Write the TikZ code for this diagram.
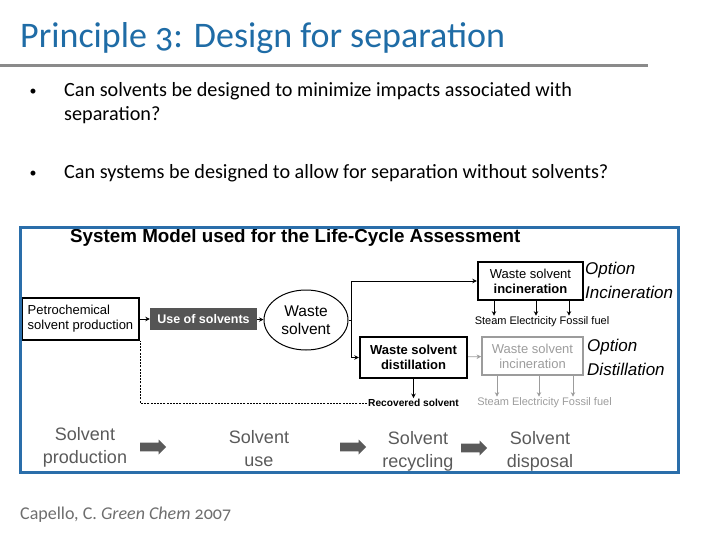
\documentclass[tikz,border=0pt]{standalone}
\usepackage{fontspec}
\setmainfont{Carlito}[Numbers=OldStyle]
\newfontfamily\arialfont{Liberation Sans}
\usetikzlibrary{arrows.meta,shapes.geometric,shapes.arrows,positioning}
\definecolor{titleblue}{HTML}{1F6CA6}
\definecolor{frameblue}{HTML}{2A6EAA}
\definecolor{rulegray}{HTML}{8A8A8A}
\definecolor{citegray}{HTML}{6E6E6E}
\definecolor{optgray}{HTML}{9C9C9C}
\definecolor{stagegray}{HTML}{5A5A5A}
\definecolor{usefill}{HTML}{555555}
\begin{document}
\begin{tikzpicture}[x=1pt, y=-1pt, >={Stealth[length=4.5pt,width=4.5pt]},
    heavybox/.style={draw, line width=2.4pt, inner sep=2pt, align=center, font=\arialfont\fontsize{13}{15}\selectfont},
    greybox/.style={draw=optgray, line width=1.8pt, inner sep=2pt, align=center, text=optgray, font=\arialfont\fontsize{13}{15}\selectfont},
    outlabel/.style={inner sep=1pt, font=\arialfont\fontsize{11}{12}\selectfont},
    optlabel/.style={anchor=west, inner sep=0pt, font=\arialfont\itshape\fontsize{17}{18}\selectfont},
    stage/.style={align=center, text=stagegray, font=\arialfont\fontsize{18}{23}\selectfont},
    stagearrow/.style={single arrow, fill=stagegray, inner sep=4pt, minimum width=15pt, minimum height=26pt, single arrow head extend=3pt, single arrow head indent=0pt},
    flow/.style={->, line width=0.8pt}]
    % Page size
    \useasboundingbox (0,0) rectangle (720,540);

    % Heading and rule
    \node[anchor=base west, inner sep=0pt, text=titleblue, font=\fontsize{36}{40}\selectfont] (title) at (20,48) {Principle 3: Design for separation};
    \draw[rulegray, line width=3pt] (0,66) -- (648,66);

    % Questions
    \node[anchor=base, inner sep=0pt, font=\fontsize{14}{24}\selectfont] (dot1) at (33,96) {•};
    \node[anchor=base west, inner sep=0pt, align=left, font=\fontsize{20.2}{24}\selectfont] (q1) at (64,121) {Can solvents be designed to minimize impacts associated with\\separation?};
    \node[anchor=base, inner sep=0pt, font=\fontsize{14}{24}\selectfont] (dot2) at (33,178) {•};
    \node[anchor=base west, inner sep=0pt, font=\fontsize{20.2}{24}\selectfont] (q2) at (64,179) {Can systems be designed to allow for separation without solvents?};

    \begin{scope}
    \clip (20,228) rectangle (678,472);
    % Model heading
    \node[anchor=base west, inner sep=0pt, font=\arialfont\bfseries\fontsize{18.8}{20}\selectfont] (model) at (70,243) {System Model used for the Life-Cycle Assessment};

    % Main chain
    \node[heavybox, align=left, minimum width=117pt, minimum height=42pt] (prod) at (80.5,319) {Petrochemical\\solvent production};
    \node[fill=usefill, text=white, minimum width=107pt, minimum height=22pt, inner sep=1pt, font=\arialfont\bfseries\fontsize{12.5}{14}\selectfont] (use) at (203.5,319) {Use of solvents};
    \node[draw, ellipse, line width=1pt, minimum width=84pt, minimum height=60pt, inner sep=0pt, align=center, font=\arialfont\fontsize{15.5}{18}\selectfont] (waste) at (306,320) {Waste\\solvent};
    \coordinate (split) at (351,320);

    % Option incineration
    \node[heavybox, minimum width=105pt, minimum height=38pt] (incin) at (530.5,281) {Waste solvent\\\textbf{incineration}};
    \node[outlabel] (incout) at (542,322) {Steam Electricity Fossil fuel};
    \node[optlabel] (opt1) at (585,270) {Option};
    \node[optlabel] (opt1b) at (585,292) {Incineration};

    % Option distillation
    \node[heavybox, font=\arialfont\bfseries\fontsize{13}{15}\selectfont, minimum width=107pt, minimum height=41pt] (dist) at (413.5,357.5) {Waste solvent\\distillation};
    \node[greybox, minimum width=101pt, minimum height=38pt] (ginc) at (532.5,356) {Waste solvent\\incineration};
    \node[outlabel, text=optgray] (gout) at (544.5,403) {Steam Electricity Fossil fuel};
    \node[outlabel, font=\arialfont\bfseries\fontsize{10.2}{12}\selectfont] (rec) at (413.5,403) {Recovered solvent};
    \node[optlabel] (opt2) at (587,347) {Option};
    \node[optlabel] (opt2b) at (587,369) {Distillation};

    % Connectors
    \draw[flow] (prod) -- (use);
    \draw[flow] (use) -- (waste);
    \draw[line width=0.8pt] (waste.east) -- (split);
    \draw[flow] (split) |- (incin.west);
    \draw[flow] (split) |- (dist.west);
    \draw[flow, optgray] (dist) -- (ginc);
    \draw[flow] (dist) -- (rec);
    \draw[line width=0.8pt, dash pattern=on 2pt off 1.2pt] (rec.west) -| (prod.south east);
    \foreach \xx in {494,536,569}
        \draw[flow] (incin.south -| \xx,0) -- (incout.north -| \xx,0);
    \foreach \xx in {497,539,573}
        \draw[flow, optgray] (ginc.south -| \xx,0) -- (gout.north -| \xx,0);

    % Life-cycle stages
    \node[stage] (sprod) at (85,447) {Solvent\\production};
    \node[stage] (suse) at (259,449) {Solvent\\use};
    \node[stage] (srec) at (418,451) {Solvent\\recycling};
    \node[stage] (sdisp) at (540,451) {Solvent\\disposal};
    \node[stagearrow] (a1) at (151,447) {};
    \node[stagearrow] (a2) at (351,447) {};
    \node[stagearrow] (a3) at (472,448) {};
    \end{scope}

    % Frame
    \draw[frameblue, line width=3pt] (20,228) rectangle (678,472);

    % Source
    \node[anchor=base west, inner sep=0pt, text=citegray, font=\fontsize{18}{20}\selectfont] (cite) at (20,519) {Capello, C. \textit{Green Chem} 2007};
\end{tikzpicture}
\end{document}
